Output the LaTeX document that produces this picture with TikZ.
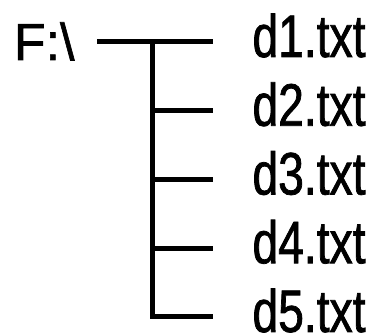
\documentclass[tikz,border=0pt]{standalone}
\usepackage{fontspec}
\setmainfont[FakeBold=1.2]{Liberation Sans}
\newfontfamily\narrowfont[FakeStretch=0.77,FakeBold=1.2]{Liberation Sans}
\usepackage{tikz}

\begin{document}
\begin{tikzpicture}[x=1pt,y=-1pt,line width=5pt]
\tikzset{
  file/.style={anchor=base west,inner sep=0pt,font=\narrowfont\fontsize{60}{60}\selectfont},
  drive/.style={anchor=base east,inner sep=0pt,font=\fontsize{52}{52}\selectfont}
}
\useasboundingbox (0,0) rectangle (372,336);

\node[drive] (root) at (77,60) {F:\textbackslash};

\coordinate (t1) at (152,42);
\coordinate (t2) at (152,110.75);
\coordinate (t3) at (152,179.5);
\coordinate (t4) at (152,248.25);
\coordinate (t5) at (152,317);

\foreach \i/\y in {1/42,2/110.75,3/179.5,4/248.25,5/317}
  \node[file] (d\i) at (250,\y+15) {d\i.txt};

\draw[shorten <=20pt,shorten >=37pt] (root.east |- t1) -- (t1 -| d1.west);
\draw[shorten >=37pt] (t1) -- (t5) -- (t5 -| d5.west);
\foreach \i in {2,3,4}
  \draw[shorten >=37pt] (t\i) -- (t\i -| d\i.west);

\end{tikzpicture}
\end{document}
